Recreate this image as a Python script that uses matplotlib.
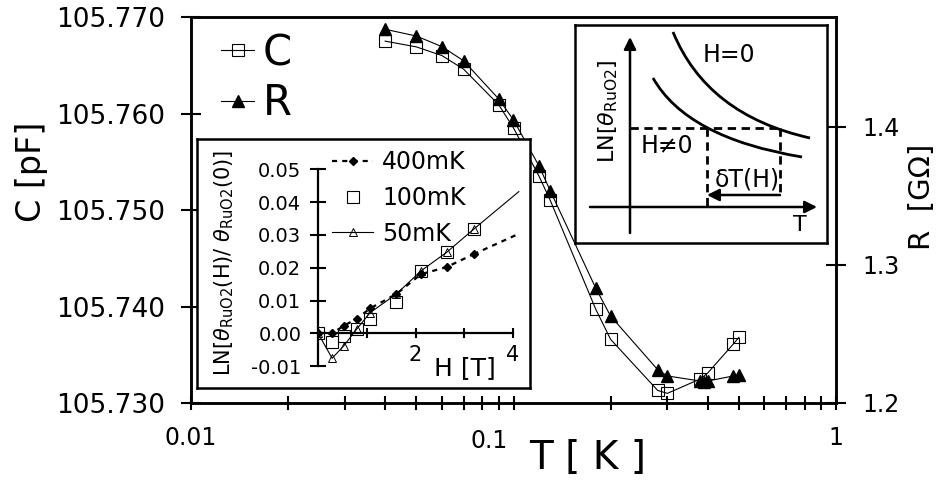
import matplotlib.pyplot as plt
import numpy as np
from matplotlib.ticker import FixedLocator, FixedFormatter, NullFormatter, LogLocator
from matplotlib.path import Path
from matplotlib.patches import PathPatch

plt.rcParams['font.family'] = ['DejaVu Sans']

# main curves: capacitance and RuO2 resistance vs T
T_c = [0.04, 0.05, 0.06, 0.07, 0.09, 0.10, 0.12, 0.13, 0.18, 0.20, 0.28, 0.30, 0.38, 0.40, 0.48, 0.50]
C_pF = [105.7675, 105.7669, 105.7660, 105.7646, 105.7609, 105.7585, 105.7535, 105.7510,
        105.7397, 105.7366, 105.7313, 105.7310, 105.7325, 105.7331, 105.7361, 105.7368]
T_r = [0.04, 0.05, 0.06, 0.07, 0.09, 0.10, 0.12, 0.13, 0.18, 0.20, 0.28, 0.30, 0.38, 0.39, 0.40, 0.48, 0.50]
R_GOhm = [1.4708, 1.4659, 1.4582, 1.4480, 1.4203, 1.4051, 1.3717, 1.3538, 1.2831, 1.2630,
          1.2241, 1.2196, 1.2159, 1.2155, 1.2159, 1.2196, 1.2203]

x_ticks = [0.01, 0.1, 1]
x_ticklabels = ['0.01', '', '1']
c_ticks = [105.730, 105.740, 105.750, 105.760, 105.770]
r_ticks = [1.2, 1.3, 1.4]

# inset: LN[theta(H)/theta(0)] vs H
h_400 = [0.0, 0.29, 0.53, 0.79, 1.07, 1.61, 2.11, 2.64, 3.19]
v_400 = [0.0, 0.0, 0.0023, 0.0044, 0.0076, 0.0120, 0.0180, 0.0202, 0.0241]
h_400_end, v_400_end = 4.07, 0.0300
h_100 = [0.0, 0.29, 0.53, 0.79, 1.07, 1.61, 2.11, 2.64, 3.19]
v_100 = [0.0, -0.0026, -0.0007, 0.0012, 0.0044, 0.0096, 0.0190, 0.0247, 0.0317]
h_50 = [0.0, 0.29, 0.53, 0.79, 1.07, 1.61, 2.11, 2.64, 3.19]
v_50 = [0.0, -0.0076, -0.0038, 0.0012, 0.0063, 0.0120, 0.0190, 0.0247, 0.0317]
h_50_end, v_50_end = 4.12, 0.0432
inset_yticks = [-0.01, 0.0, 0.01, 0.02, 0.03, 0.04, 0.05]
inset_xticks = [1, 2, 3, 4]
inset_xticklabels = ['', '2', '', '4']

# schematic sketch (arbitrary units): start, control, end of each curve
sk_h0 = [(98, 211), (132, 128), (235, 105)]
sk_h1 = [(78, 165), (112, 105), (227, 86)]

W, H = 942, 482


def fx(px):
    return px / W


def fy(py):
    return 1 - py / H


fig = plt.figure(figsize=(9.42, 4.82), dpi=100)

ax = fig.add_axes([fx(191), fy(403), (836 - 191) / W, (403 - 17) / H])
ax.set_xscale('log')
ax.set_xlim(0.01, 1)
ax.set_ylim(105.730, 105.770)
lc, = ax.plot(T_c, C_pF, '-', color='k', lw=0.8, marker='s', ms=9, mfc='none', mec='k', mew=0.8)

ax2 = ax.twinx()
ax2.set_ylim(1.2, 1.4797)
lr, = ax2.plot(T_r, R_GOhm, '-', color='k', lw=0.8, marker='^', ms=9, mfc='k', mec='k')

for a in (ax, ax2):
    for s in a.spines.values():
        s.set_linewidth(1.8)

ax.xaxis.set_major_locator(FixedLocator(x_ticks))
ax.xaxis.set_major_formatter(FixedFormatter(x_ticklabels))
ax.xaxis.set_minor_locator(LogLocator(base=10, subs=np.arange(2, 10)))
ax.xaxis.set_minor_formatter(NullFormatter())
ax.tick_params(axis='x', which='both', direction='inout', length=9.5, width=1.5,
               labelsize=17, pad=12, top=False)
ax.annotate('0.1', xy=(0.1, 0), xycoords=('data', 'axes fraction'),
            xytext=(-24, -26), textcoords='offset pixels', ha='center', va='top', fontsize=17)
ax.set_yticks(c_ticks)
ax.set_yticklabels(['%.3f' % v for v in c_ticks])
ax.tick_params(axis='y', direction='inout', length=14.4, width=1.5, labelsize=19, pad=11.5)
ax2.set_yticks(r_ticks)
ax2.set_yticklabels(['%.1f' % v for v in r_ticks])
ax2.tick_params(axis='y', direction='inout', length=14.4, width=1.5, labelsize=17, pad=12)

fig.text(fx(588), fy(458), 'T [ K ]', fontsize=28, ha='center', va='center')
fig.text(fx(32), fy(172), 'C [pF]', fontsize=24, rotation=90, ha='center', va='center')
fig.text(fx(922), fy(197), 'R  [G\u03a9]', fontsize=21, rotation=90, ha='center', va='center')

fig.legend([lc, lr], ['C', 'R'], loc='upper left', bbox_to_anchor=(fx(221), fy(32)),
           frameon=False, fontsize=30, handlelength=0.8, handletextpad=0.2,
           labelspacing=0.2, borderpad=0, borderaxespad=0)

# left inset
axLf = fig.add_axes([fx(197), fy(388), (530 - 197) / W, (388 - 139) / H])
axLf.set_xticks([])
axLf.set_yticks([])
for s in axLf.spines.values():
    s.set_linewidth(1.8)

axL = fig.add_axes([fx(318), fy(388), (530 - 318) / W, (388 - 139) / H])
axL.patch.set_visible(False)
axL.set_xlim(0, 212 / 48.75)
axL.set_ylim((333.3 - 388) / 3280, (333.3 - 139) / 3280)
axL.spines['top'].set_visible(False)
axL.spines['right'].set_visible(False)
axL.spines['bottom'].set_position(('data', 0))
axL.spines['bottom'].set_bounds(0, 4)
axL.spines['left'].set_bounds(-0.01, 0.05)
axL.spines['bottom'].set_linewidth(1.6)
axL.spines['left'].set_linewidth(1.6)

l400, = axL.plot(h_400, v_400, color='k', lw=1.6, dashes=(2.3, 2.3), marker='D', ms=4.5, mfc='k', mec='k')
axL.plot([h_400[-1], h_400_end], [v_400[-1], v_400_end], color='k', lw=1.6, dashes=(2.3, 2.3))
l100, = axL.plot(h_100, v_100, ls='none', marker='s', ms=8, mfc='none', mec='k', mew=0.8)
l50, = axL.plot(h_50, v_50, '-', color='k', lw=0.8, marker='^', ms=6, mfc='none', mec='k', mew=0.7)
axL.plot([h_50[-1], h_50_end], [v_50[-1], v_50_end], '-', color='k', lw=0.8)

axL.set_yticks(inset_yticks)
axL.set_yticklabels(['%.2f' % v for v in inset_yticks])
axL.tick_params(axis='y', direction='inout', length=12, width=1.5, labelsize=14, pad=6)
axL.set_xticks(inset_xticks)
axL.set_xticklabels(inset_xticklabels)
axL.tick_params(axis='x', direction='inout', length=7, width=1.5, labelsize=15, pad=5)

fig.text(fx(465), fy(368), 'H [T]', fontsize=18, ha='center', va='center')
fig.text(fx(224), fy(263), r'LN[$\theta_{\mathrm{RuO2}}$(H)/ $\theta_{\mathrm{RuO2}}$(0)]',
         fontsize=15, rotation=90, ha='center', va='center')

fig.legend([l400, l100, l50], ['400mK', '100mK', '50mK'], loc='upper left',
           bbox_to_anchor=(fx(332), fy(150)), frameon=False, fontsize=17,
           handlelength=1.74, handletextpad=0.38, labelspacing=0.5,
           borderpad=0, borderaxespad=0)

# right inset: schematic
axR = fig.add_axes([fx(575), fy(243), (827 - 575) / W, (243 - 25) / H])
axR.set_xlim(0, 252)
axR.set_ylim(0, 218)
axR.set_xticks([])
axR.set_yticks([])
for s in axR.spines.values():
    s.set_linewidth(1.8)

for pts in (sk_h0, sk_h1):
    curve = Path(pts, [Path.MOVETO, Path.CURVE3, Path.CURVE3])
    axR.add_patch(PathPatch(curve, fc='none', ec='k', lw=2))
axR.plot([55, 205], [115, 115], color='k', lw=2, dashes=(3, 2))
axR.plot([132, 132], [115, 33], color='k', lw=2, dashes=(3, 2))
axR.plot([205, 205], [115, 46], color='k', lw=2, dashes=(3, 2))
arrow = dict(arrowstyle='-|>', lw=1.8, color='k', mutation_scale=18, shrinkA=0, shrinkB=0)
axR.annotate('', xy=(55, 206), xytext=(55, 10), arrowprops=arrow)
axR.annotate('', xy=(242, 36), xytext=(15, 36), arrowprops=arrow)
axR.annotate('', xy=(132, 48), xytext=(205, 48), arrowprops=arrow)
axR.text(154, 188, 'H=0', fontsize=17, ha='center', va='center')
axR.text(92, 97, 'H\u22600', fontsize=17, ha='center', va='center')
axR.text(172, 64, '\u03b4T(H)', fontsize=17, ha='center', va='center')
axR.text(225, 18, 'T', fontsize=16, ha='center', va='center')
axR.text(33, 132, r'LN[$\theta_{\mathrm{RuO2}}$]', fontsize=16, rotation=90, ha='center', va='center')

fig.savefig('out.png', dpi=100)
